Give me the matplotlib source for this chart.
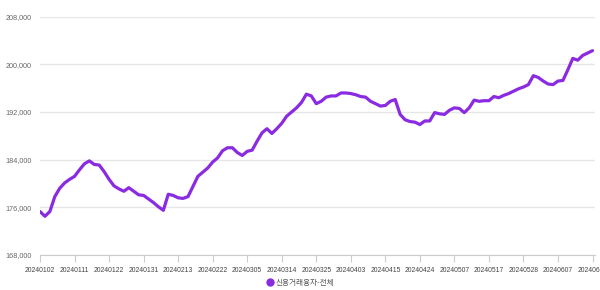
import matplotlib.pyplot as plt
from matplotlib.lines import Line2D
from matplotlib.ticker import FuncFormatter

plt.rcParams['font.family'] = ['Liberation Sans', 'DejaVu Sans']

# Daily values (one per trading day, 2024-01-02 .. 2024-06-18)
values = [
    175300, 174500, 175300, 177800, 179200, 180100, 180700, 181200, 182300, 183300,
    183800, 183200, 183100, 182000, 180700, 179600, 179100, 178700, 179300, 178700,
    178100, 178000, 177400, 176800, 176100, 175500, 178200, 178000, 177600, 177500,
    177800, 179500, 181200, 181900, 182600, 183600, 184300, 185500, 186000, 186000,
    185200, 184700, 185400, 185600, 187100, 188500, 189200, 188400, 189200, 190100,
    191300, 192000, 192700, 193600, 195000, 194700, 193400, 193800, 194500, 194700,
    194700, 195200, 195200, 195100, 194900, 194600, 194500, 193800, 193400, 193000,
    193100, 193800, 194100, 191600, 190700, 190400, 190300, 189900, 190500, 190500,
    191900, 191700, 191600, 192300, 192700, 192600, 191900, 192700, 194000, 193800,
    193900, 193900, 194600, 194400, 194800, 195100, 195500, 195900, 196200, 196600,
    198100, 197800, 197200, 196700, 196600, 197200, 197300, 199100, 201000, 200700,
    201500, 201900, 202300,
]

# x labels shown every 7th trading day
tick_labels = [
    '20240102', '20240111', '20240122', '20240131', '20240213', '20240222',
    '20240305', '20240314', '20240325', '20240403', '20240415', '20240424',
    '20240507', '20240517', '20240528', '20240607', '20240618',
]
series_name = '신용거래융자-전체'
line_color = '#8a2be2'

fig = plt.figure(figsize=(6, 2.9), dpi=100)
ax = fig.add_axes([40 / 600, 1 - 255 / 290, 555 / 600, (255 - 16.7) / 290])

ax.plot(range(len(values)), values, color=line_color, lw=2.3,
        solid_joinstyle='round', solid_capstyle='round')

ax.set_xlim(0, len(values) - 1 + 0.5)
ax.set_ylim(168000, 208000)
ax.set_yticks(range(168000, 208001, 8000))
ax.yaxis.set_major_formatter(FuncFormatter(lambda v, p: f'{v:,.0f}'))
ax.set_xticks(range(0, len(values), 7))
ax.set_xticklabels(tick_labels)

ax.grid(axis='y', color='#e6e6e6', lw=1)
ax.set_axisbelow(True)
for s in ['top', 'right', 'left']:
    ax.spines[s].set_visible(False)
ax.spines['bottom'].set_color('#cccccc')
ax.tick_params(axis='y', length=0, pad=6, labelsize=5.2, labelcolor='#666666')
ax.tick_params(axis='x', length=5, color='#cccccc', pad=4, labelsize=4.9,
               labelcolor='#444444')

# Legend centered under the chart
handle = Line2D([], [], color=line_color, marker='o', linestyle='none', markersize=5)
fig.legend([handle], [series_name], loc='center', bbox_to_anchor=(0.5, 1 - 283 / 290),
           frameon=False, handletextpad=0.2, handlelength=1,
           prop={'family': ['Noto Sans CJK KR', 'DejaVu Sans'], 'size': 5.5},
           labelcolor='#555555')

fig.savefig('out.png', dpi=100)
